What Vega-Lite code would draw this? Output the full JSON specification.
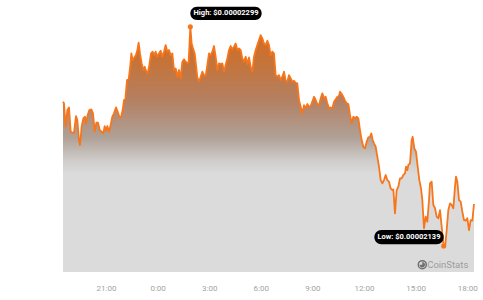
{
  "$schema": "https://vega.github.io/schema/vega-lite/v6.json",
  "width": 411,
  "height": 272,
  "autosize": {"type": "none"},
  "padding": {"left": 63, "top": 0, "right": 9, "bottom": 28},
  "background": "white",
  "config": {"view": {"stroke": null}, "font": "Roboto"},
  "datasets": {
    "series": [
      {"h":18.5,"p":2.2443e-5},{"h":18.558,"p":2.2431e-5},{"h":18.655,"p":2.2260e-5},{"h":18.752,"p":2.2382e-5},{"h":18.849,"p":2.2401e-5},
      {"h":18.946,"p":2.2224e-5},{"h":19.043,"p":2.2217e-5},{"h":19.14,"p":2.2217e-5},{"h":19.256,"p":2.2338e-5},{"h":19.333,"p":2.2309e-5},
      {"h":19.43,"p":2.2163e-5},{"h":19.488,"p":2.2127e-5},{"h":19.585,"p":2.2260e-5},{"h":19.682,"p":2.2321e-5},{"h":19.779,"p":2.2333e-5},
      {"h":19.837,"p":2.2285e-5},{"h":19.934,"p":2.2346e-5},{"h":20.031,"p":2.2382e-5},{"h":20.147,"p":2.2387e-5},{"h":20.244,"p":2.2358e-5},
      {"h":20.341,"p":2.2224e-5},{"h":20.438,"p":2.2290e-5},{"h":20.535,"p":2.2290e-5},{"h":20.632,"p":2.2236e-5},{"h":20.748,"p":2.2224e-5},
      {"h":20.845,"p":2.2212e-5},{"h":20.922,"p":2.2265e-5},{"h":21.0,"p":2.2229e-5},{"h":21.078,"p":2.2265e-5},{"h":21.174,"p":2.2224e-5},
      {"h":21.271,"p":2.2273e-5},{"h":21.368,"p":2.2333e-5},{"h":21.465,"p":2.2358e-5},{"h":21.581,"p":2.2401e-5},{"h":21.678,"p":2.2370e-5},
      {"h":21.775,"p":2.2333e-5},{"h":21.872,"p":2.2328e-5},{"h":21.969,"p":2.2382e-5},{"h":22.047,"p":2.2455e-5},{"h":22.124,"p":2.2460e-5},
      {"h":22.221,"p":2.2601e-5},{"h":22.318,"p":2.2606e-5},{"h":22.415,"p":2.2710e-5},{"h":22.473,"p":2.2795e-5},{"h":22.55,"p":2.2747e-5},
      {"h":22.647,"p":2.2766e-5},{"h":22.744,"p":2.2783e-5},{"h":22.822,"p":2.2820e-5},{"h":22.899,"p":2.2873e-5},{"h":22.977,"p":2.2795e-5},
      {"h":23.074,"p":2.2722e-5},{"h":23.171,"p":2.2674e-5},{"h":23.248,"p":2.2698e-5},{"h":23.326,"p":2.2669e-5},{"h":23.422,"p":2.2650e-5},
      {"h":23.519,"p":2.2710e-5},{"h":23.616,"p":2.2795e-5},{"h":23.713,"p":2.2808e-5},{"h":23.791,"p":2.2783e-5},{"h":23.888,"p":2.2808e-5},
      {"h":23.984,"p":2.2771e-5},{"h":24.081,"p":2.2795e-5},{"h":24.178,"p":2.2815e-5},{"h":24.275,"p":2.2771e-5},{"h":24.372,"p":2.2808e-5},
      {"h":24.469,"p":2.2856e-5},{"h":24.566,"p":2.2808e-5},{"h":24.663,"p":2.2820e-5},{"h":24.76,"p":2.2783e-5},{"h":24.857,"p":2.2795e-5},
      {"h":24.953,"p":2.2674e-5},{"h":25.05,"p":2.2686e-5},{"h":25.147,"p":2.2625e-5},{"h":25.244,"p":2.2674e-5},{"h":25.341,"p":2.2613e-5},
      {"h":25.438,"p":2.2735e-5},{"h":25.535,"p":2.2752e-5},{"h":25.632,"p":2.2735e-5},{"h":25.729,"p":2.2722e-5},{"h":25.806,"p":2.2735e-5},
      {"h":25.903,"p":2.2990e-5},{"h":25.981,"p":2.2868e-5},{"h":26.058,"p":2.2832e-5},{"h":26.155,"p":2.2795e-5},{"h":26.233,"p":2.2710e-5},
      {"h":26.31,"p":2.2620e-5},{"h":26.407,"p":2.2589e-5},{"h":26.504,"p":2.2625e-5},{"h":26.601,"p":2.2662e-5},{"h":26.698,"p":2.2637e-5},
      {"h":26.795,"p":2.2630e-5},{"h":26.891,"p":2.2710e-5},{"h":26.988,"p":2.2795e-5},{"h":27.085,"p":2.2783e-5},{"h":27.182,"p":2.2808e-5},
      {"h":27.279,"p":2.2849e-5},{"h":27.376,"p":2.2771e-5},{"h":27.473,"p":2.2674e-5},{"h":27.57,"p":2.2722e-5},{"h":27.667,"p":2.2718e-5},
      {"h":27.764,"p":2.2722e-5},{"h":27.86,"p":2.2662e-5},{"h":27.957,"p":2.2710e-5},{"h":28.054,"p":2.2759e-5},{"h":28.151,"p":2.2820e-5},
      {"h":28.248,"p":2.2849e-5},{"h":28.345,"p":2.2825e-5},{"h":28.442,"p":2.2844e-5},{"h":28.539,"p":2.2868e-5},{"h":28.636,"p":2.2820e-5},
      {"h":28.733,"p":2.2832e-5},{"h":28.829,"p":2.2820e-5},{"h":28.926,"p":2.2759e-5},{"h":29.023,"p":2.2735e-5},{"h":29.12,"p":2.2771e-5},
      {"h":29.217,"p":2.2718e-5},{"h":29.314,"p":2.2766e-5},{"h":29.411,"p":2.2698e-5},{"h":29.508,"p":2.2662e-5},{"h":29.605,"p":2.2771e-5},
      {"h":29.702,"p":2.2820e-5},{"h":29.798,"p":2.2856e-5},{"h":29.895,"p":2.2893e-5},{"h":29.992,"p":2.2929e-5},{"h":30.089,"p":2.2905e-5},
      {"h":30.186,"p":2.2868e-5},{"h":30.283,"p":2.2856e-5},{"h":30.38,"p":2.2888e-5},{"h":30.477,"p":2.2856e-5},{"h":30.574,"p":2.2783e-5},
      {"h":30.671,"p":2.2808e-5},{"h":30.767,"p":2.2795e-5},{"h":30.864,"p":2.2637e-5},{"h":30.961,"p":2.2625e-5},{"h":31.058,"p":2.2637e-5},
      {"h":31.155,"p":2.2601e-5},{"h":31.252,"p":2.2625e-5},{"h":31.349,"p":2.2662e-5},{"h":31.446,"p":2.2596e-5},{"h":31.543,"p":2.2589e-5},
      {"h":31.64,"p":2.2637e-5},{"h":31.736,"p":2.2613e-5},{"h":31.833,"p":2.2589e-5},{"h":31.93,"p":2.2596e-5},{"h":32.027,"p":2.2581e-5},
      {"h":32.124,"p":2.2577e-5},{"h":32.221,"p":2.2455e-5},{"h":32.318,"p":2.2406e-5},{"h":32.415,"p":2.2358e-5},{"h":32.512,"p":2.2418e-5},
      {"h":32.609,"p":2.2394e-5},{"h":32.705,"p":2.2426e-5},{"h":32.802,"p":2.2406e-5},{"h":32.899,"p":2.2411e-5},{"h":32.996,"p":2.2443e-5},
      {"h":33.093,"p":2.2479e-5},{"h":33.19,"p":2.2455e-5},{"h":33.287,"p":2.2426e-5},{"h":33.384,"p":2.2418e-5},{"h":33.481,"p":2.2467e-5},
      {"h":33.578,"p":2.2504e-5},{"h":33.674,"p":2.2467e-5},{"h":33.771,"p":2.2479e-5},{"h":33.868,"p":2.2431e-5},{"h":33.965,"p":2.2394e-5},
      {"h":34.062,"p":2.2401e-5},{"h":34.159,"p":2.2394e-5},{"h":34.256,"p":2.2443e-5},{"h":34.353,"p":2.2460e-5},{"h":34.45,"p":2.2479e-5},
      {"h":34.547,"p":2.2484e-5},{"h":34.605,"p":2.2516e-5},{"h":34.702,"p":2.2499e-5},{"h":34.798,"p":2.2479e-5},{"h":34.895,"p":2.2450e-5},
      {"h":34.992,"p":2.2431e-5},{"h":35.089,"p":2.2426e-5},{"h":35.186,"p":2.2346e-5},{"h":35.283,"p":2.2285e-5},{"h":35.38,"p":2.2333e-5},
      {"h":35.477,"p":2.2321e-5},{"h":35.574,"p":2.2333e-5},{"h":35.671,"p":2.2321e-5},{"h":35.767,"p":2.2236e-5},{"h":35.864,"p":2.2163e-5},
      {"h":35.961,"p":2.2114e-5},{"h":36.058,"p":2.2102e-5},{"h":36.155,"p":2.2151e-5},{"h":36.252,"p":2.2183e-5},{"h":36.349,"p":2.2187e-5},
      {"h":36.426,"p":2.2212e-5},{"h":36.504,"p":2.2163e-5},{"h":36.581,"p":2.2139e-5},{"h":36.678,"p":2.2114e-5},{"h":36.775,"p":2.2042e-5},
      {"h":36.872,"p":2.1969e-5},{"h":36.969,"p":2.1871e-5},{"h":37.066,"p":2.1847e-5},{"h":37.163,"p":2.1871e-5},{"h":37.26,"p":2.1908e-5},
      {"h":37.357,"p":2.1871e-5},{"h":37.453,"p":2.1859e-5},{"h":37.55,"p":2.1810e-5},{"h":37.647,"p":2.1798e-5},{"h":37.705,"p":2.1803e-5},
      {"h":37.802,"p":2.1628e-5},{"h":37.899,"p":2.1798e-5},{"h":37.996,"p":2.1823e-5},{"h":38.093,"p":2.1883e-5},{"h":38.19,"p":2.1883e-5},
      {"h":38.287,"p":2.1908e-5},{"h":38.384,"p":2.1920e-5},{"h":38.442,"p":2.1969e-5},{"h":38.519,"p":2.1944e-5},{"h":38.578,"p":2.1981e-5},
      {"h":38.674,"p":2.1993e-5},{"h":38.771,"p":2.2163e-5},{"h":38.829,"p":2.2187e-5},{"h":38.926,"p":2.2102e-5},{"h":39.023,"p":2.2078e-5},
      {"h":39.12,"p":2.1969e-5},{"h":39.217,"p":2.1871e-5},{"h":39.314,"p":2.1810e-5},{"h":39.391,"p":2.1725e-5},{"h":39.488,"p":2.1519e-5},
      {"h":39.585,"p":2.1604e-5},{"h":39.682,"p":2.1567e-5},{"h":39.779,"p":2.1725e-5},{"h":39.837,"p":2.1847e-5},{"h":39.934,"p":2.1859e-5},
      {"h":40.031,"p":2.1689e-5},{"h":40.128,"p":2.1665e-5},{"h":40.225,"p":2.1604e-5},{"h":40.322,"p":2.1592e-5},{"h":40.419,"p":2.1652e-5},
      {"h":40.516,"p":2.1531e-5},{"h":40.632,"p":2.1390e-5},{"h":40.729,"p":2.1397e-5},{"h":40.806,"p":2.1506e-5},{"h":40.903,"p":2.1652e-5},
      {"h":41.0,"p":2.1701e-5},{"h":41.097,"p":2.1689e-5},{"h":41.194,"p":2.1665e-5},{"h":41.291,"p":2.1823e-5},{"h":41.349,"p":2.1896e-5},
      {"h":41.426,"p":2.1859e-5},{"h":41.523,"p":2.1725e-5},{"h":41.62,"p":2.1713e-5},{"h":41.717,"p":2.1640e-5},{"h":41.814,"p":2.1579e-5},
      {"h":41.911,"p":2.1575e-5},{"h":42.008,"p":2.1592e-5},{"h":42.105,"p":2.1506e-5},{"h":42.202,"p":2.1579e-5},{"h":42.298,"p":2.1575e-5},
      {"h":42.395,"p":2.1696e-5}
    ],
    "extremes": [
      {"h": 25.903, "p": 2.299e-5, "kind": "high", "label": "High: $0.00002299"},
      {"h": 40.632, "p": 2.139e-5, "kind": "low", "label": "Low: $0.00002139"}
    ],
    "brand": [{"name": "CoinStats", "h": 42.395, "p": 2.12e-5}]
  },
  "encoding": {
    "x": {
      "field": "h",
      "type": "quantitative",
      "title": null,
      "scale": {"domain": [18.5, 42.395], "nice": false, "zero": false},
      "axis": {
        "values": [21, 24, 27, 30, 33, 36, 39, 42],
        "labelExpr": "(datum.value % 24) + ':00'",
        "domain": false,
        "ticks": false,
        "grid": false,
        "labelPadding": 12,
        "labelFontSize": 8,
        "labelColor": "#a3a3a3",
        "labelFont": "Roboto"
      }
    },
    "y": {
      "field": "p",
      "type": "quantitative",
      "title": null,
      "scale": {"domain": [2.12e-5, 2.3185e-5], "nice": false, "zero": false},
      "axis": null
    }
  },
  "layer": [
    {
      "data": {"name": "series"},
      "mark": {
        "type": "area",
        "fill": {
          "gradient": "linear",
          "x1": 0, "y1": 0, "x2": 0, "y2": 1,
          "stops": [
            {"offset": 0, "color": "#d66a1c"},
            {"offset": 0.15, "color": "#c5743a"},
            {"offset": 0.3, "color": "#b48062"},
            {"offset": 0.45, "color": "#b0a096"},
            {"offset": 0.55, "color": "#d0cecc"},
            {"offset": 0.6, "color": "#dbdbdb"},
            {"offset": 1, "color": "#dbdbdb"}
          ]
        }
      },
      "encoding": {"y2": {"datum": 2.12e-5}}
    },
    {
      "data": {"name": "series"},
      "mark": {"type": "line", "color": "#f7761b", "strokeWidth": 1.8, "strokeJoin": "round"},
      "encoding": {}
    },
    {
      "data": {"name": "extremes"},
      "mark": {"type": "point", "filled": true, "shape": "circle", "size": 26, "color": "#f7761b", "opacity": 1},
      "encoding": {}
    },
    {
      "data": {"name": "extremes"},
      "transform": [{"filter": "datum.kind === 'high'"}],
      "mark": {"type": "rect", "color": "#000000", "cornerRadius": 6.5, "xOffset": 0, "x2Offset": 71.3, "yOffset": -20, "y2Offset": -6.7},
      "encoding": {"x2": {"field": "h"}, "y2": {"field": "p"}}
    },
    {
      "data": {"name": "extremes"},
      "transform": [{"filter": "datum.kind === 'high'"}],
      "mark": {"type": "text", "color": "#ffffff", "fontWeight": "bold", "fontSize": 7.5, "font": "Roboto", "align": "center", "baseline": "middle", "dx": 35.7, "dy": -13.4},
      "encoding": {"text": {"field": "label"}}
    },
    {
      "data": {"name": "extremes"},
      "transform": [{"filter": "datum.kind === 'low'"}],
      "mark": {"type": "rect", "color": "#000000", "cornerRadius": 7, "xOffset": -69.3, "x2Offset": 0, "yOffset": -16, "y2Offset": -1.7},
      "encoding": {"x2": {"field": "h"}, "y2": {"field": "p"}}
    },
    {
      "data": {"name": "extremes"},
      "transform": [{"filter": "datum.kind === 'low'"}],
      "mark": {"type": "text", "color": "#ffffff", "fontWeight": "bold", "fontSize": 7.5, "font": "Roboto", "align": "center", "baseline": "middle", "dx": -34.7, "dy": -8.9},
      "encoding": {"text": {"field": "label"}}
    },
    {
      "data": {"name": "brand"},
      "mark": {"type": "text", "color": "#9d9d9d", "fontSize": 9.5, "font": "Roboto", "align": "right", "baseline": "middle", "dx": -5.7, "dy": -7.3},
      "encoding": {"text": {"field": "name"}}
    },
    {
      "data": {"name": "brand"},
      "mark": {"type": "point", "shape": "circle", "filled": false, "size": 64, "stroke": "#6f6f6f", "strokeWidth": 1.5, "opacity": 1, "xOffset": -51.7, "yOffset": -7.3},
      "encoding": {}
    },
    {
      "data": {"name": "brand"},
      "mark": {"type": "point", "shape": "M0,0L0,-1A1,1 0 1,1 -1,0Z", "filled": true, "size": 30, "color": "#6f6f6f", "opacity": 1, "xOffset": -51.7, "yOffset": -7.3},
      "encoding": {}
    }
  ]
}
